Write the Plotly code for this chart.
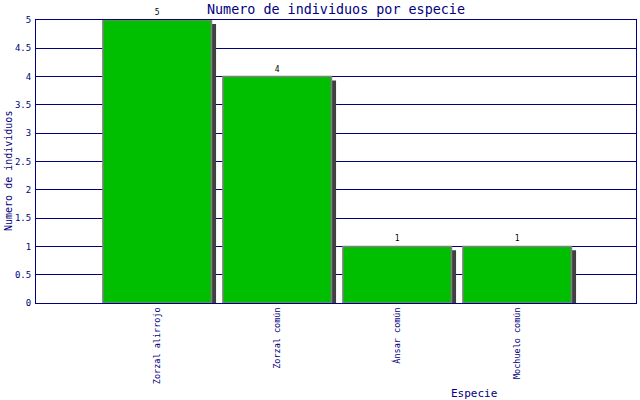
import plotly.graph_objects as go

especies = ["Zorzal alirrojo", "Zorzal común", "Ánsar común", "Mochuelo común"]
individuos = [5, 4, 1, 1]
y_ticks = [0, 0.5, 1, 1.5, 2, 2.5, 3, 3.5, 4, 4.5, 5]

NAVY = "#000080"
FONT = "DejaVu Sans Mono"

pos = list(range(len(especies)))

fig = go.Figure()

# sombra desplazada detrás de cada barra
fig.add_trace(go.Bar(
    x=[p + 0.038 for p in pos], y=[v - 0.07 for v in individuos],
    width=0.905, marker=dict(color="#404040", line=dict(width=0)),
    hoverinfo="skip", showlegend=False,
))

fig.add_trace(go.Bar(
    x=pos, y=individuos, width=0.905,
    marker=dict(color="#00BF00", line=dict(color="#808080", width=1.5)),
    text=[str(v) for v in individuos], textposition="outside",
    textfont=dict(family=FONT, size=8, color="#000000"),
    cliponaxis=False, showlegend=False,
))

fig.update_layout(
    width=640, height=400,
    barmode="overlay",
    paper_bgcolor="white", plot_bgcolor="white",
    margin=dict(l=36, r=4, t=20, b=97, autoexpand=False),
    title=dict(text="Numero de individuos por especie", x=0.525, xanchor="center",
               y=0.977, yanchor="middle",
               font=dict(family=FONT, size=13.4, color=NAVY)),
    font=dict(family=FONT, color=NAVY),
)

# títulos de los ejes como anotaciones, en la posición del original
fig.add_annotation(text="Especie", xref="paper", yref="paper",
                   x=(474 - 36) / 600, y=-(393 - 303) / 283,
                   xanchor="center", yanchor="middle", showarrow=False,
                   font=dict(family=FONT, size=11, color=NAVY))
fig.add_annotation(text="Numero de individuos", xref="paper", yref="paper",
                   x=-(36 - 8) / 600, y=(303 - 171) / 283, textangle=-90,
                   xanchor="center", yanchor="middle", showarrow=False,
                   font=dict(family=FONT, size=10, color=NAVY))

fig.update_xaxes(
    range=[-1.01, 3.99], tickvals=pos, ticktext=especies, tickangle=-90,
    tickfont=dict(family=FONT, size=8.5, color=NAVY),
    showgrid=False, zeroline=False, ticks="", automargin=False,
    showline=True, linecolor=NAVY, linewidth=1, mirror=True,
)
fig.update_yaxes(
    range=[0, 5], tickvals=y_ticks, ticktext=[f"{t:g}" for t in y_ticks],
    tickfont=dict(family=FONT, size=9, color=NAVY),
    showgrid=True, gridcolor=NAVY, gridwidth=1, zeroline=False, ticks="",
    automargin=False, ticklabelstandoff=2,
    showline=True, linecolor=NAVY, linewidth=1, mirror=True,
)

fig.write_html(
    "out.html",
    config={"displayModeBar": False},
    post_script="document.body.style.margin='0';document.body.style.overflow='hidden';",
)
